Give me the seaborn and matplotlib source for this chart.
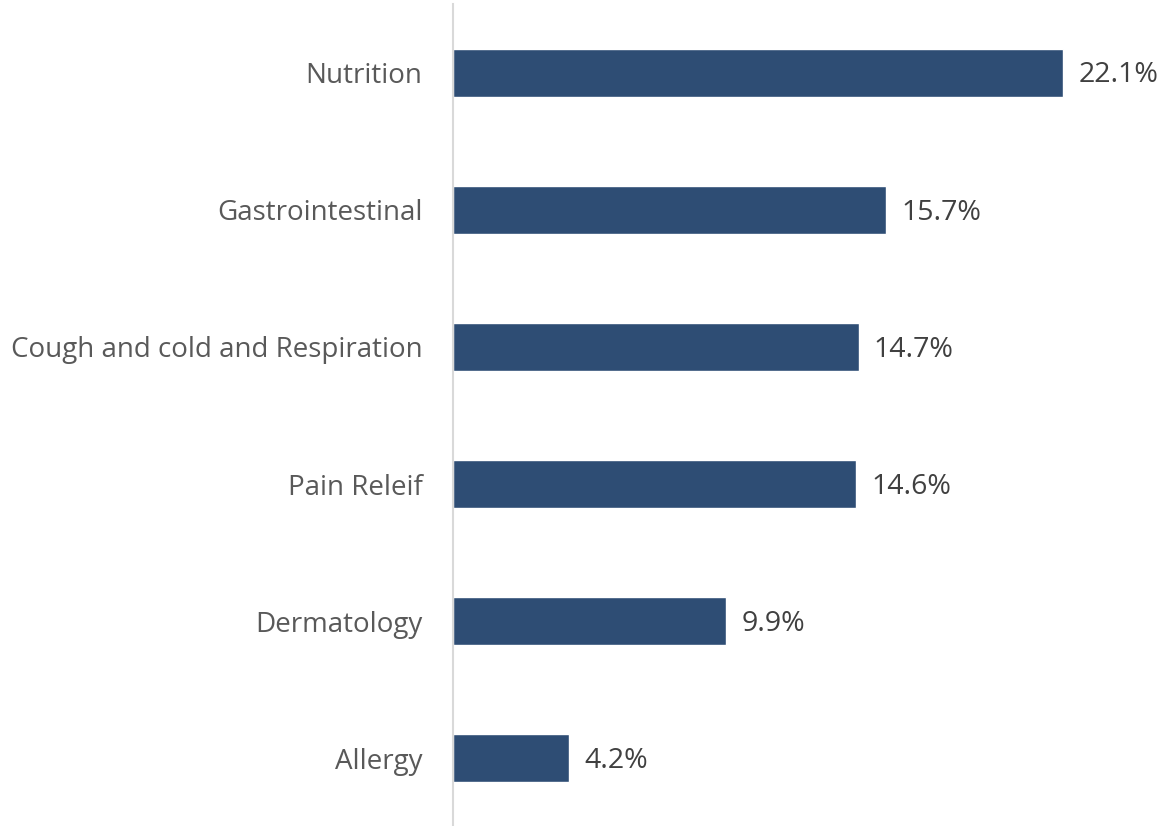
import matplotlib
matplotlib.use("Agg")
import matplotlib.pyplot as plt
import seaborn as sns
import pandas as pd

categories = ["Nutrition", "Gastrointestinal", "Cough and cold and Respiration",
              "Pain Releif", "Dermatology", "Allergy"]
values = [22.1, 15.7, 14.7, 14.6, 9.9, 4.2]

sns.set_style("white")
plt.rcParams['font.family'] = ['Open Sans', 'DejaVu Sans']

df = pd.DataFrame({"category": categories, "value": values})

fig = plt.figure(figsize=(11.62, 8.26), dpi=100)
ax = fig.add_axes([0.3898, -0.001, 0.5998, 0.996])
sns.barplot(data=df, y="category", x="value", orient="h", color="#2E4D74",
            saturation=1, width=0.35, ax=ax)
ax.set_xlim(0, 25.25)
ax.set_ylim(5.5, -0.5)
ax.set_xlabel("")
ax.set_ylabel("")
ax.set_xticks([])
for s in ["top", "right", "bottom"]:
    ax.spines[s].set_visible(False)
ax.spines["left"].set_color("#D9D9D9")
ax.spines["left"].set_linewidth(1.5)
ax.tick_params(axis="y", length=0, pad=22, labelsize=20, labelcolor="#595959")
for i, v in enumerate(values):
    ax.text(v + 0.55, i + 0.02, f"{v:.1f}%", va="center", ha="left", fontsize=20.5, color="#404040")
fig.savefig("out.png", dpi=100)
